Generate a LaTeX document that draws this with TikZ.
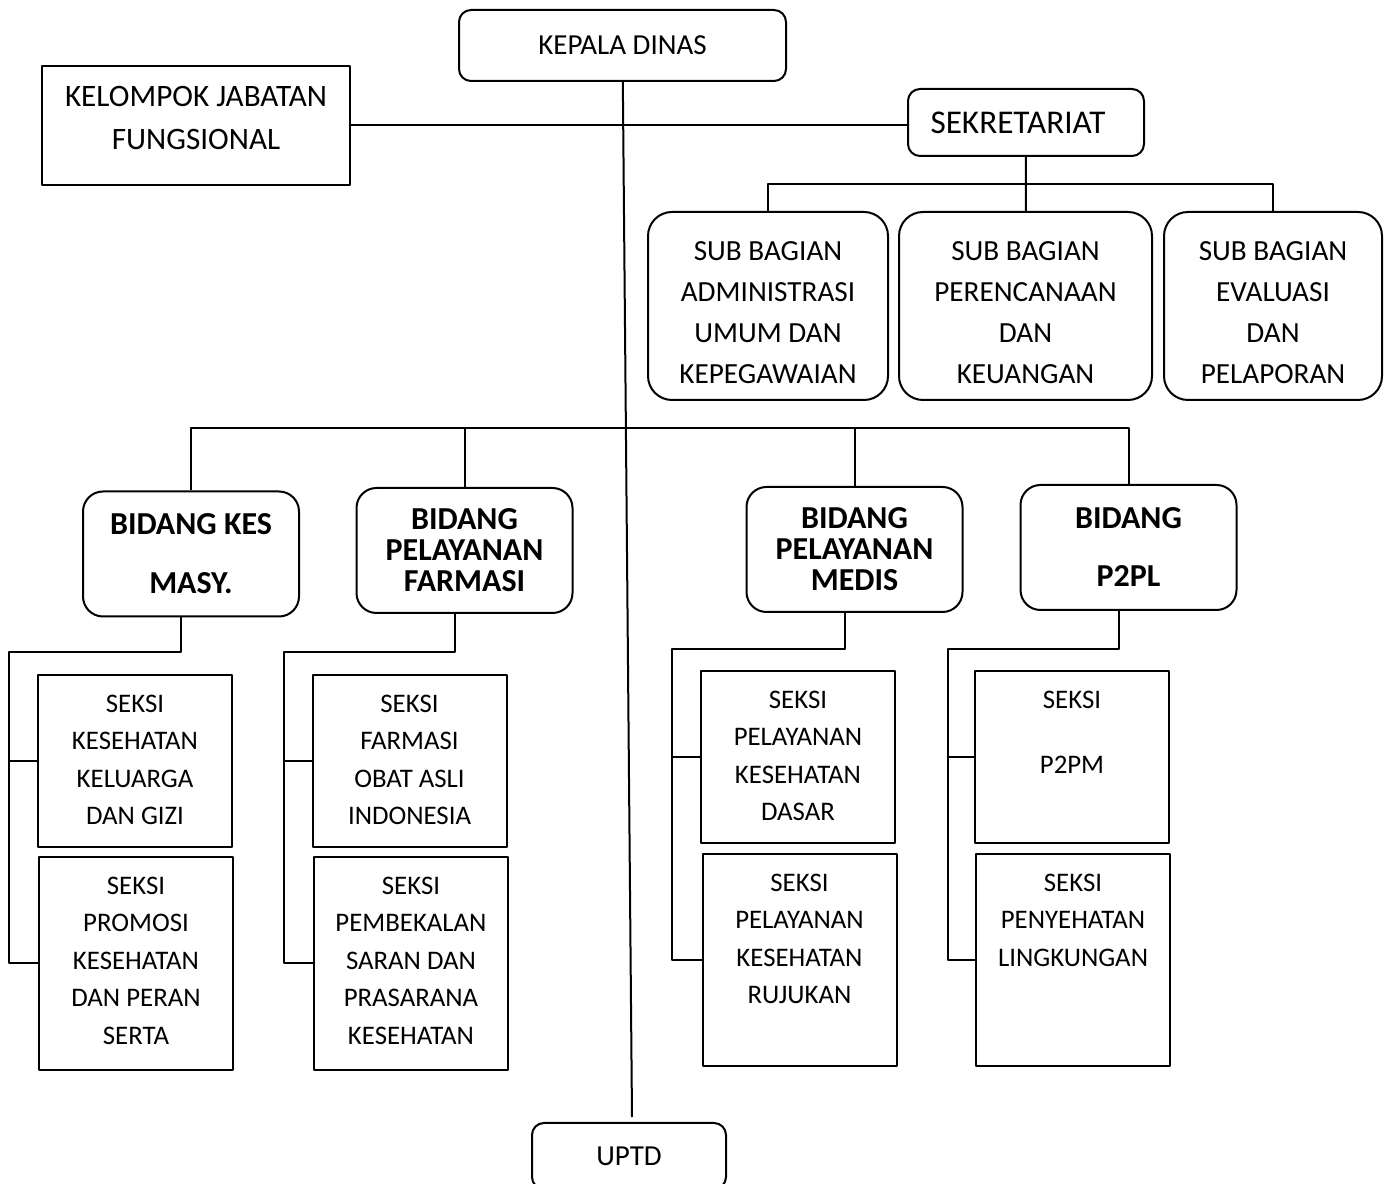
\documentclass[tikz,border=0pt]{standalone}
\usepackage{fontspec}
\setmainfont{Carlito}
\begin{document}
\begin{tikzpicture}[line width=1bp,line join=bevel,
  kotak/.style={draw,rectangle,inner sep=0pt,align=center},
  pimpinan/.style={kotak,rounded corners=6bp,font=\fontsize{14.5bp}{17bp}\selectfont},
  subbagian/.style={kotak,rounded corners=12bp,minimum height=94bp},
  bidang/.style={kotak,rounded corners=10bp,minimum width=108bp,minimum height=62.5bp,font=\bfseries\fontsize{16bp}{15.5bp}\selectfont},
  seksi/.style={kotak,minimum width=97bp},
  isi/.style={inner sep=0pt,align=center,anchor=north,font=\fontsize{13.4bp}{18.75bp}\selectfont},
  isi_sub/.style={isi,font=\fontsize{14.6bp}{20.5bp}\selectfont},
]
\useasboundingbox (0bp,0bp) rectangle (696bp,592bp);
%%
\node (node_kepala) at (311.25bp,569.25bp) [pimpinan,minimum width=163.5bp,minimum height=35.5bp] {KEPALA DINAS};
  \node (node_fungsional) at (98bp,529.25bp) [kotak,minimum width=154bp,minimum height=59.5bp] {};
  \node (text_fungsional) at ([yshift=-10bp]node_fungsional.north) [isi,font=\fontsize{15.6bp}{21.5bp}\selectfont] {KELOMPOK JABATAN\\FUNGSIONAL};
  \node (node_sekretariat) at (513bp,530.75bp) [pimpinan,minimum width=118bp,minimum height=33.5bp,font=\fontsize{16.6bp}{19bp}\selectfont] {SEKRETARIAT\kern8bp};
  \node (node_uptd) at (314.5bp,14bp) [pimpinan,minimum width=97bp,minimum height=33bp] {UPTD};
  \coordinate (node_uptd_in) at (316bp,33.5bp);
%
  \node (node_sub1) at (384bp,439bp) [subbagian,minimum width=120bp] {};
  \node (node_sub2) at (512.75bp,439bp) [subbagian,minimum width=126.5bp] {};
  \node (node_sub3) at (636.5bp,439bp) [subbagian,minimum width=109bp] {};
  \node (text_sub1) at ([yshift=-14.75bp]node_sub1.north) [isi_sub] {SUB BAGIAN\\ADMINISTRASI\\UMUM DAN\\KEPEGAWAIAN};
  \node (text_sub2) at ([yshift=-14.75bp]node_sub2.north) [isi_sub] {SUB BAGIAN\\PERENCANAAN\\DAN\\KEUANGAN};
  \node (text_sub3) at ([yshift=-14.75bp]node_sub3.north) [isi_sub] {SUB BAGIAN\\EVALUASI\\DAN\\PELAPORAN};
%
  \node (node_bid1) at (95.5bp,315bp) [bidang] {BIDANG KES\\[14bp]MASY.};
  \node (node_bid2) at (232.25bp,316.75bp) [bidang] {BIDANG\\PELAYANAN\\FARMASI};
  \node (node_bid3) at (427.25bp,317.25bp) [bidang] {BIDANG\\PELAYANAN\\MEDIS};
  \node (node_bid4) at (564.25bp,318.25bp) [bidang] {BIDANG\\[13.5bp]P2PL};
%
  \node (node_s1a) at (67.5bp,211.5bp) [seksi,minimum height=86bp] {};
  \node (node_s1b) at (68bp,110.25bp) [seksi,minimum height=106.5bp] {};
  \node (node_s2a) at (204.75bp,211.5bp) [seksi,minimum height=86bp] {};
  \node (node_s2b) at (205.5bp,110.25bp) [seksi,minimum height=106.5bp] {};
  \node (node_s3a) at (399bp,213.5bp) [seksi,minimum height=86bp] {};
  \node (node_s3b) at (399.75bp,112bp) [seksi,minimum height=106bp] {};
  \node (node_s4a) at (536bp,213.5bp) [seksi,minimum height=86bp] {};
  \node (node_s4b) at (536.5bp,112bp) [seksi,minimum height=106bp] {};
  \node (text_s1a) at ([yshift=-10bp]node_s1a.north) [isi] {SEKSI\\KESEHATAN\\KELUARGA\\DAN GIZI};
  \node (text_s1b) at ([yshift=-10bp]node_s1b.north) [isi] {SEKSI\\PROMOSI\\KESEHATAN\\DAN PERAN\\SERTA};
  \node (text_s2a) at ([yshift=-10bp]node_s2a.north) [isi] {SEKSI\\FARMASI\\OBAT ASLI\\INDONESIA};
  \node (text_s2b) at ([yshift=-10bp]node_s2b.north) [isi] {SEKSI\\PEMBEKALAN\\SARAN DAN\\PRASARANA\\KESEHATAN};
  \node (text_s3a) at ([yshift=-10bp]node_s3a.north) [isi] {SEKSI\\PELAYANAN\\KESEHATAN\\DASAR};
  \node (text_s3b) at ([yshift=-10bp]node_s3b.north) [isi] {SEKSI\\PELAYANAN\\KESEHATAN\\RUJUKAN};
  \node (text_s4a) at ([yshift=-10bp]node_s4a.north) [isi] {SEKSI\\[13.75bp]P2PM};
  \node (text_s4b) at ([yshift=-10bp]node_s4b.north) [isi] {SEKSI\\PENYEHATAN\\LINGKUNGAN};
%%
  \draw (node_kepala) -- (node_uptd_in);
  \draw (node_fungsional.east) -- (node_fungsional.east -| node_sekretariat.west);
  \coordinate (node_sek_bus) at (513bp,500bp);
  \draw (node_sekretariat) -- (node_sub2);
  \draw (node_sub1.north) |- (node_sek_bus) -| (node_sub3.north);
  \coordinate (node_bid_bus) at (313.75bp,378bp);
  \draw (node_bid1.north) |- (node_bid_bus) -| (node_bid4.north);
  \draw (node_bid2.north) -- (node_bid2.north |- node_bid_bus);
  \draw (node_bid3.north) -- (node_bid3.north |- node_bid_bus);
%
  \coordinate (node_k1) at (4.5bp,266bp);
  \coordinate (node_k2) at (142bp,266bp);
  \coordinate (node_k3) at (336bp,267.5bp);
  \coordinate (node_k4) at (474bp,267.5bp);
  \draw ([xshift=-5bp]node_bid1.south) |- (node_k1) |- (node_s1b.west);
  \draw (node_k1 |- node_s1a.west) -- (node_s1a.west);
  \draw ([xshift=-5bp]node_bid2.south) |- (node_k2) |- (node_s2b.west);
  \draw (node_k2 |- node_s2a.west) -- (node_s2a.west);
  \draw ([xshift=-5bp]node_bid3.south) |- (node_k3) |- (node_s3b.west);
  \draw (node_k3 |- node_s3a.west) -- (node_s3a.west);
  \draw ([xshift=-5bp]node_bid4.south) |- (node_k4) |- (node_s4b.west);
  \draw (node_k4 |- node_s4a.west) -- (node_s4a.west);
%
\end{tikzpicture}
\end{document}
